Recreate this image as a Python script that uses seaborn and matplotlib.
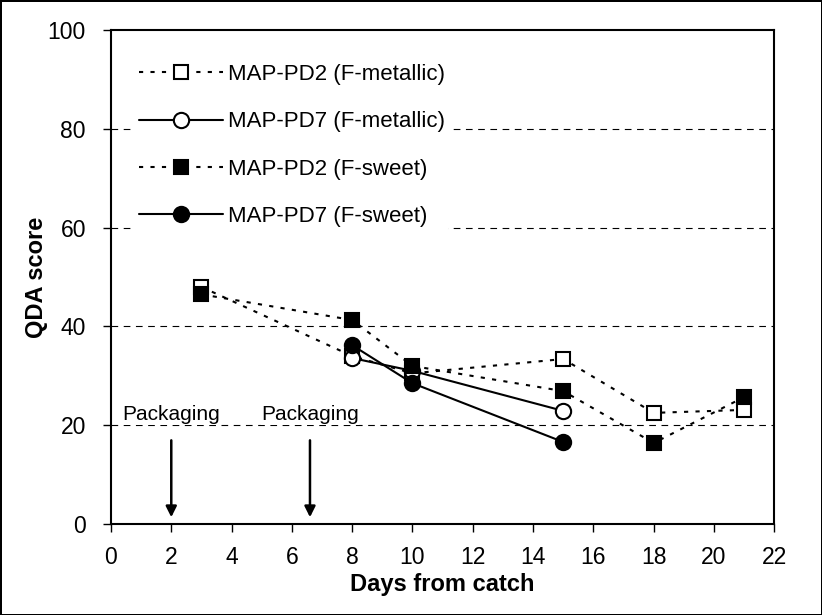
import pandas as pd
import matplotlib.pyplot as plt
import seaborn as sns

# values
days_pd2 = [3, 8, 10, 15, 18, 21]
days_pd7 = [8, 10, 15]
pd2_metallic = [48, 34, 30.5, 33.4, 22.5, 23.1]
pd7_metallic = [33.6, 31, 22.9]
pd2_sweet = [46.5, 41.3, 32, 26.9, 16.4, 25.7]
pd7_sweet = [36.2, 28.5, 16.6]
packaging_days = [2, 6.6]

sns.set_style("white")
plt.rcParams['font.family'] = ['Liberation Sans', 'DejaVu Sans']
plt.rcParams.update({'text.color': 'black', 'axes.labelcolor': 'black',
                     'xtick.color': 'black', 'ytick.color': 'black'})

fig = plt.figure(figsize=(8.22, 6.15), dpi=100)
fig.patch.set_edgecolor('black')
fig.patch.set_linewidth(2)
ax = fig.add_axes([0.135, 0.148, 0.807, 0.803])

series = [
    ('MAP-PD2 (F-metallic)', days_pd2, pd2_metallic, 's', 'white', (0, (2, 3.5)), 10),
    ('MAP-PD7 (F-metallic)', days_pd7, pd7_metallic, 'o', 'white', '-', 11),
    ('MAP-PD2 (F-sweet)', days_pd2, pd2_sweet, 's', 'black', (0, (2, 3.5)), 10),
    ('MAP-PD7 (F-sweet)', days_pd7, pd7_sweet, 'o', 'black', '-', 11),
]

for label, x, y, marker, face, ls, ms in series:
    df = pd.DataFrame({'day': x, 'score': y})
    sns.lineplot(data=df, x='day', y='score', ax=ax, color='black', linestyle=ls,
                 linewidth=1.5, marker=marker, markersize=ms, markerfacecolor=face,
                 markeredgecolor='black', markeredgewidth=1.5, label=label, zorder=3)

for yv in [20, 40, 60, 80]:
    ax.axhline(yv, color='black', linestyle=(0, (6, 5)), linewidth=0.8, zorder=1)

for d in packaging_days:
    ax.annotate('', xy=(d, 0.8), xytext=(d, 17.5),
                arrowprops=dict(arrowstyle='-|>', color='black', lw=1.8,
                                mutation_scale=16), zorder=4)
    ax.text(d, 20.2, 'Packaging', ha='center', va='bottom', fontsize=15,
            bbox=dict(facecolor='white', edgecolor='none', pad=0.3), zorder=2)

ax.set_xlim(0, 22)
ax.set_ylim(0, 100)
ax.set_xticks(range(0, 23, 2))
ax.set_yticks(range(0, 101, 20))
ax.tick_params(axis='both', direction='out', length=6, width=1, labelsize=16.5,
               bottom=True, left=True, color='black')
ax.tick_params(axis='x', pad=10)
ax.tick_params(axis='y', pad=12)
for s in ax.spines.values():
    s.set_color('black')
    s.set_linewidth(1.5)

ax.set_xlabel('Days from catch', fontsize=17, fontweight='bold', labelpad=3)
ax.set_ylabel('QDA score', fontsize=17, fontweight='bold', labelpad=0)

leg = ax.legend(loc='upper left', bbox_to_anchor=(0.035, 0.94), fontsize=16,
                handlelength=3.8, labelspacing=1.18, frameon=True, framealpha=1,
                edgecolor='none', facecolor='white', borderpad=0.2,
                handletextpad=0.2, borderaxespad=0)
leg.set_zorder(5)

fig.savefig('out.png', dpi=100)
